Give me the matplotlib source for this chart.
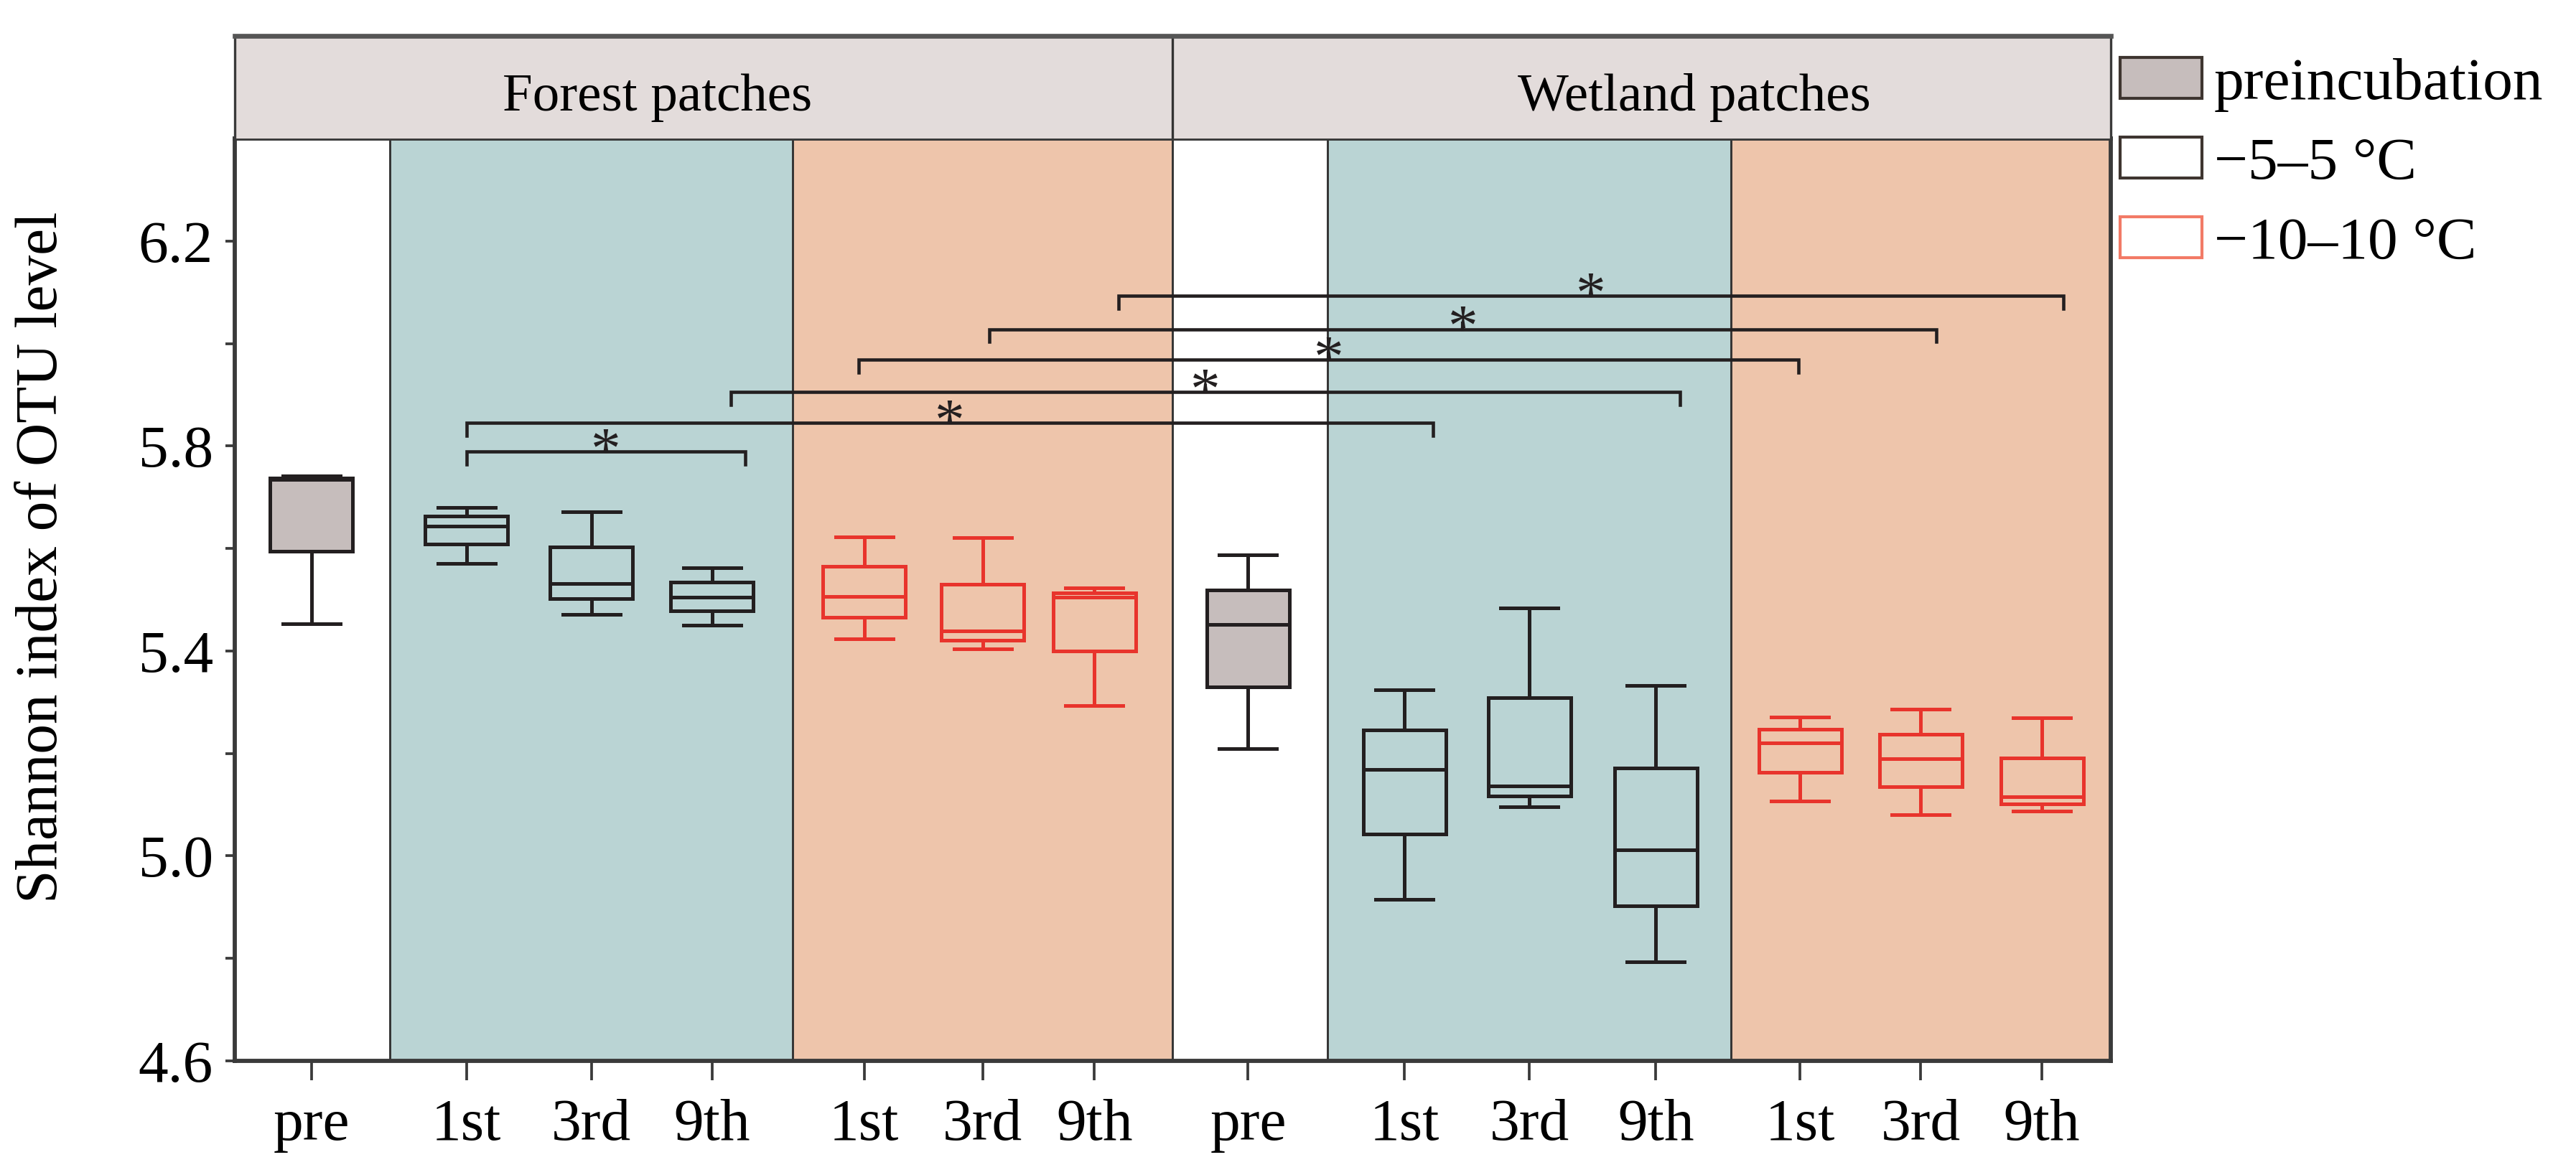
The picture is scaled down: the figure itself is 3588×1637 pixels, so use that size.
import numpy as np
import matplotlib
matplotlib.use('Agg')
import matplotlib.pyplot as plt
from matplotlib.patches import Patch

plt.rcParams['font.family'] = ['Liberation Serif', 'DejaVu Serif']

# ---- data ----
groups = ['Forest patches', 'Wetland patches']
tick_labels = ['pre', '1st', '3rd', '9th', '1st', '3rd', '9th',
               'pre', '1st', '3rd', '9th', '1st', '3rd', '9th']
# 0 = preincubation, 1 = -5-5 C, 2 = -10-10 C
treat = [0, 1, 1, 1, 2, 2, 2,
         0, 1, 1, 1, 2, 2, 2]

whislo = [5.453, 5.571, 5.472, 5.450, 5.423, 5.404, 5.293,
          5.209, 4.915, 5.096, 4.793, 5.107, 5.080, 5.087]
q1 = [5.595, 5.608, 5.502, 5.478, 5.466, 5.421, 5.400,
      5.330, 5.043, 5.117, 4.902, 5.163, 5.135, 5.101]
med = [5.735, 5.643, 5.531, 5.505, 5.506, 5.439, 5.505,
       5.452, 5.169, 5.137, 5.012, 5.220, 5.190, 5.116]
q3 = [5.738, 5.663, 5.603, 5.535, 5.565, 5.530, 5.513,
      5.519, 5.246, 5.309, 5.172, 5.247, 5.238, 5.191]
whishi = [5.742, 5.680, 5.671, 5.563, 5.623, 5.621, 5.523,
          5.588, 5.324, 5.484, 5.332, 5.271, 5.287, 5.269]

legend_labels = ['preincubation', '\u22125\u20135 \u00b0C', '\u221210\u201310 \u00b0C']

# ---- layout ----
pos = [1.07, 3.23, 4.97, 6.65, 8.77, 10.42, 11.98,
       14.12, 16.30, 18.04, 19.80, 21.81, 23.49, 25.18]
xmax = 26.14
teal = '#BAD4D4'
peach = '#EEC5AB'
bands = [(0, 2.16, 'white'), (2.16, 7.77, teal), (7.77, 13.07, peach),
         (13.07, 15.23, 'white'), (15.23, 20.85, teal), (20.85, xmax, peach)]
# significance brackets: left x, right x, height
brackets = [(3.23, 7.11, 5.789), (3.23, 16.70, 5.845), (6.91, 20.14, 5.906),
            (8.69, 21.79, 5.969), (10.51, 23.71, 6.028), (12.32, 25.48, 6.093)]

dark = '#231F20'
red = '#E8342C'
spine_c = '#3A3A3A'
styles = {0: dict(face='#C6BDBC', edge=dark),
          1: dict(face='none', edge=dark),
          2: dict(face='none', edge=red)}

fig = plt.figure(figsize=(11.96, 5.4567), dpi=300)
ax = fig.add_axes([0.0911, 0.0971, 0.7283, 0.7850])
sax = fig.add_axes([0.0911, 0.8821, 0.7283, 0.0874])

ax.set_xlim(0, xmax)
ax.set_ylim(4.6, 6.4)

for x0, x1, c in bands:
    ax.axvspan(x0, x1, color=c, zorder=0, lw=0)
for x0, x1, c in bands[1:]:
    ax.axvline(x0, color='#333333', lw=0.7, zorder=1)

for t in (0, 1, 2):
    idx = [i for i in range(len(pos)) if treat[i] == t]
    stats = [dict(med=med[i], q1=q1[i], q3=q3[i], whislo=whislo[i],
                  whishi=whishi[i], fliers=[]) for i in idx]
    st = styles[t]
    lw = 1.2
    ax.bxp(stats, positions=[pos[i] for i in idx], widths=1.15, capwidths=0.8,
           patch_artist=True, showfliers=False, manage_ticks=False,
           boxprops=dict(facecolor=st['face'], edgecolor=st['edge'], linewidth=lw),
           whiskerprops=dict(color=st['edge'], linewidth=lw),
           capprops=dict(color=st['edge'], linewidth=lw),
           medianprops=dict(color=st['edge'], linewidth=lw),
           zorder=3)

# brackets with stars
leg = 0.025
for x0, x1, y in brackets:
    ax.plot([x0, x0, x1, x1], [y - leg, y, y, y - leg], color=dark, lw=1.1,
            solid_joinstyle='miter', zorder=4)
    xm = (x0 + x1) / 2
    ax.plot([xm, xm], [y, y + 0.012], color=dark, lw=1.0, zorder=4)
    ax.text(xm, y - 0.032, '*', ha='center', va='baseline', fontsize=20,
            color=dark, zorder=5)

ax.set_xticks(pos)
ax.set_xticklabels(tick_labels)
ax.set_yticks([4.6, 5.0, 5.4, 5.8, 6.2])
ax.set_yticks([4.8, 5.2, 5.6, 6.0], minor=True)
ax.yaxis.set_major_formatter(matplotlib.ticker.FormatStrFormatter('%.1f'))
ax.tick_params(axis='x', length=6.5, width=0.9, color=spine_c, labelsize=20, pad=6)
ax.tick_params(axis='y', which='both', length=3.2, width=0.9, color=spine_c,
               labelsize=20, pad=4)
for s in ax.spines.values():
    s.set_color(spine_c)
    s.set_linewidth(1.4)

ax.set_ylabel('Shannon index of OTU level', fontsize=20)
ax.yaxis.set_label_coords(-0.088, 0.546)

# facet strip
sax.set_xlim(0, xmax)
sax.set_ylim(0, 1)
sax.set_facecolor('#E3DCDB')
sax.set_xticks([])
sax.set_yticks([])
sax.axvline(13.07, color='#333333', lw=0.8)
for s in sax.spines.values():
    s.set_color(spine_c)
    s.set_linewidth(0.8)
sax.spines['top'].set_linewidth(1.6)
sax.spines['top'].set_color('#555555')
sax.spines['bottom'].set_visible(False)
sax.text(5.89, 0.27, groups[0], ha='center', va='baseline', fontsize=18)
sax.text(20.34, 0.27, groups[1], ha='center', va='baseline', fontsize=18)

# legend
handles = [Patch(facecolor='#C6BDBC', edgecolor='#3E3530', lw=1.0),
           Patch(facecolor='white', edgecolor='#3E3530', lw=1.0),
           Patch(facecolor='white', edgecolor='#F27A66', lw=1.0)]
fig.legend(handles, legend_labels, loc='upper left', bbox_to_anchor=(0.823, 0.951),
           frameon=False, fontsize=20, handlelength=1.37, handleheight=0.68,
           handletextpad=0.2, labelspacing=0.42, borderpad=0, borderaxespad=0)

fig.savefig('out.png', dpi=300)
